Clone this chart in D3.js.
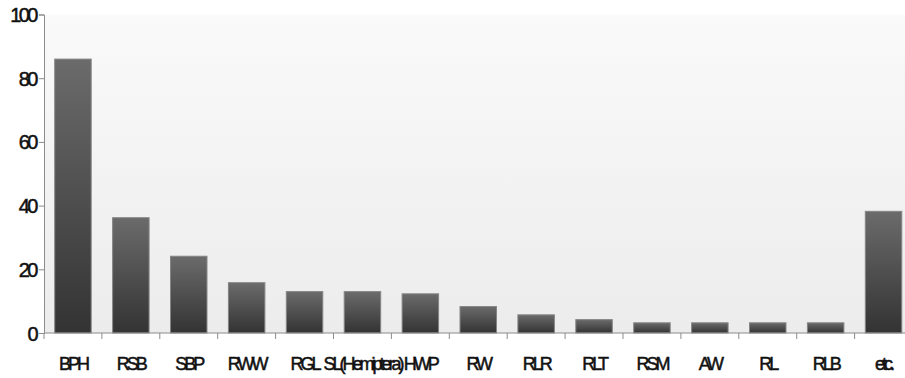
<!DOCTYPE html>
<html>
<head>
<meta charset="utf-8">
<script src="https://cdn.jsdelivr.net/npm/d3@7"></script>
<style>
  html, body { margin: 0; padding: 0; background: #fff; }
  svg { display: block; }
  .lbl { font-family: "Liberation Sans", Arial, sans-serif; fill: #111; stroke: #111; stroke-width: 0.5px; }
</style>
</head>
<body>
<svg id="chart" width="905" height="378"></svg>
<script>
// Pest categories and their counts
const categories = ["BPH", "RSB", "SBP", "RWW", "RGL", "SL(Hemiptera)", "HWP", "RW", "RLR", "RLT", "RSM", "AW", "RL", "RLB", "etc."];
const values = [86, 36.2, 24.1, 15.8, 13, 13, 12.3, 8.3, 5.7, 4.2, 3.2, 3.2, 3.2, 3.2, 38.2];
const yTicks = [0, 20, 40, 60, 80, 100];

const svg = d3.select("#chart");
const margin = { left: 44, top: 14.5 };
const plotW = 868.5, plotH = 318.5;

const x = d3.scaleBand().domain(categories).range([0, plotW]).paddingInner(0.37).paddingOuter(0.185);
const y = d3.scaleLinear().domain([0, 100]).range([plotH, 0]);

const defs = svg.append("defs");
const bg = defs.append("linearGradient").attr("id", "bg").attr("x1", 0).attr("y1", 0).attr("x2", 0).attr("y2", 1);
bg.append("stop").attr("offset", "0%").attr("stop-color", "#fafafa");
bg.append("stop").attr("offset", "100%").attr("stop-color", "#ececec");

const bar = defs.append("linearGradient").attr("id", "bar").attr("x1", 0).attr("y1", 0).attr("x2", 0).attr("y2", 1);
bar.append("stop").attr("offset", "0%").attr("stop-color", "#6b6b6b");
bar.append("stop").attr("offset", "100%").attr("stop-color", "#333333");

const g = svg.append("g").attr("transform", `translate(${margin.left},${margin.top})`);

// plot area background
g.append("rect").attr("x", 0).attr("y", 0).attr("width", plotW).attr("height", plotH).attr("fill", "url(#bg)");

// bars
g.selectAll("rect.bar").data(categories).join("rect")
  .attr("class", "bar")
  .attr("x", d => x(d))
  .attr("width", x.bandwidth())
  .attr("y", (d, i) => y(values[i]))
  .attr("height", (d, i) => y(0) - y(values[i]))
  .attr("fill", "url(#bar)")
  .attr("stroke", "#858585")
  .attr("stroke-width", 1);

// y axis
const yAxis = g.append("g").call(d3.axisLeft(y).tickValues(yTicks).tickSize(5).tickPadding(3).tickFormat(d3.format("d")));
yAxis.select(".domain").attr("stroke", "#8c8c8c");
yAxis.selectAll(".tick line").attr("stroke", "#8c8c8c");
yAxis.selectAll("text")
  .attr("class", "lbl")
  .style("font-size", "20px")
  .style("letter-spacing", "-2.5px")
  .attr("fill", "#111")
  .attr("dy", "0.35em");

// x axis baseline and boundary ticks
const xAxisG = g.append("g").attr("transform", `translate(0,${plotH})`);
xAxisG.append("line").attr("x1", 0).attr("x2", plotW).attr("stroke", "#8c8c8c");
const step = x.step();
const x0 = x(categories[0]) - step * x.paddingOuter();
xAxisG.selectAll("line.tk").data(d3.range(categories.length + 1)).join("line")
  .attr("class", "tk")
  .attr("x1", i => x0 + i * step)
  .attr("x2", i => x0 + i * step)
  .attr("y1", 0).attr("y2", 6)
  .attr("stroke", "#8c8c8c");

xAxisG.selectAll("text").data(categories).join("text")
  .attr("class", "lbl")
  .attr("x", d => x(d) + x.bandwidth() / 2)
  .attr("y", 37)
  .attr("text-anchor", "middle")
  .style("font-size", "18px")
  .style("letter-spacing", "-3px")
  .text(d => d);
</script>
</body>
</html>
